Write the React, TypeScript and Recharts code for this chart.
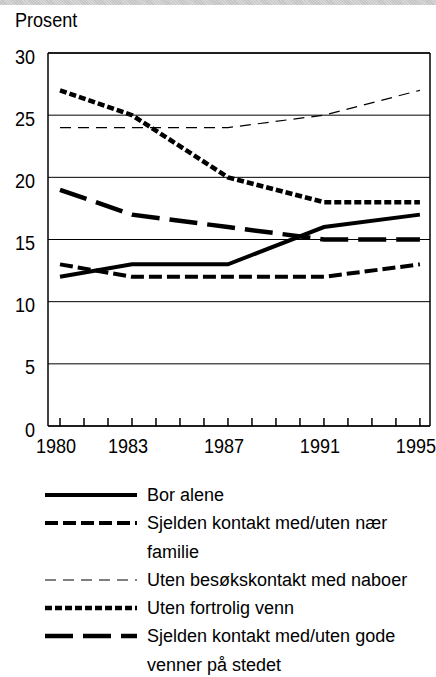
import { CartesianGrid, Line, LineChart, ReferenceLine, XAxis, YAxis } from "recharts";

const years = [1980, 1983, 1987, 1991, 1995];
const borAlene = [12, 13, 13, 16, 17];
const naerFamilie = [13, 12, 12, 12, 13];
const naboer = [24, 24, 24, 25, 27];
const fortroligVenn = [27, 25, 20, 18, 18];
const godeVenner = [19, 17, 16, 15, 15];

const yearTicks = [1980, 1981, 1982, 1983, 1984, 1985, 1986, 1987, 1988, 1989, 1990, 1991, 1992, 1993, 1994, 1995];
const yearLabels = [1980, 1983, 1987, 1991, 1995];
const valueTicks = [0, 5, 10, 15, 20, 25, 30];
const X_MIN = 1979.5;
const X_MAX = 1995.42;

const series = [
  { key: "bor", name: "Bor alene", values: borAlene, width: 4, dash: undefined },
  { key: "familie", name: "Sjelden kontakt med/uten nær familie", values: naerFamilie, width: 4, dash: "13 5" },
  { key: "naboer", name: "Uten besøkskontakt med naboer", values: naboer, width: 1.2, dash: "11 7" },
  { key: "venn", name: "Uten fortrolig venn", values: fortroligVenn, width: 4.5, dash: "7 3" },
  { key: "gode", name: "Sjelden kontakt med/uten gode venner på stedet", values: godeVenner, width: 4.5, dash: "28 10" },
];

const data = years.map((y, i) => {
  const row: Record<string, number> = { year: y };
  series.forEach((s) => (row[s.key] = s.values[i]));
  return row;
});

const FONT = '"Liberation Sans", Arial, sans-serif';
// the original uses a narrow Helvetica, so squeeze the axis text a bit
const NARROW = 0.86;

function XTick({ x, y, payload }: any) {
  const show = yearLabels.includes(payload.value);
  return (
    <g>
      <line x1={x} x2={x} y1={y} y2={y - 8} stroke="#000" strokeWidth={1.5} />
      {show && (
        <text
          transform={`translate(${x - 4},${y + 27}) scale(${NARROW},1)`}
          textAnchor="middle"
          fontSize={21}
          fontFamily={FONT}
          fill="#000"
        >
          {payload.value}
        </text>
      )}
    </g>
  );
}

function YTick({ x, y, payload }: any) {
  return (
    <text
      transform={`translate(${x - 13},${y + 10.5}) scale(${NARROW},1)`}
      textAnchor="end"
      fontSize={21}
      fontFamily={FONT}
      fill="#000"
    >
      {payload.value}
    </text>
  );
}

export default function App() {
  return (
    <div style={{ position: "absolute", left: 0, top: 0, width: 436, height: 677, background: "#fff", fontFamily: FONT }}>
      <div
        style={{
          height: 5,
          background: "repeating-linear-gradient(45deg, #c4c4c4 0px, #c4c4c4 1px, #d8d8d8 1px, #d8d8d8 2px)",
        }}
      />
      <div
        style={{
          position: "absolute",
          left: 15,
          top: 8,
          fontSize: 21,
          color: "#000",
          transform: `scale(${NARROW},1)`,
          transformOrigin: "left top",
        }}
      >
        Prosent
      </div>
      <div style={{ position: "absolute", left: 0, top: 0 }}>
        <LineChart width={436} height={470} data={data} margin={{ top: 53, right: 6, left: 0, bottom: 4 }}>
          <CartesianGrid vertical={false} stroke="#000" strokeWidth={1} />
          <XAxis
            dataKey="year"
            type="number"
            domain={[X_MIN, X_MAX]}
            ticks={yearTicks}
            interval={0}
            height={40}
            tickSize={0}
            tickMargin={0}
            tickLine={false}
            axisLine={{ stroke: "#000", strokeWidth: 1.5 }}
            tick={<XTick />}
          />
          <YAxis
            type="number"
            domain={[0, 30]}
            ticks={valueTicks}
            interval={0}
            width={48}
            tickSize={0}
            tickMargin={0}
            tickLine={false}
            axisLine={{ stroke: "#000", strokeWidth: 1.5 }}
            tick={<YTick />}
          />
          <ReferenceLine x={X_MAX} stroke="#000" strokeWidth={1.5} />
          <ReferenceLine y={30} stroke="#000" strokeWidth={1.5} />
          {series.map((s) => (
            <Line
              key={s.key}
              type="linear"
              dataKey={s.key}
              stroke="#000"
              strokeWidth={s.width}
              strokeDasharray={s.dash}
              dot={false}
              activeDot={false}
              isAnimationActive={false}
            />
          ))}
        </LineChart>
      </div>
      <div style={{ position: "absolute", left: 0, top: 481, width: 436 }}>
        {series.map((s) => (
          <div key={s.key} style={{ display: "flex", alignItems: "flex-start", lineHeight: "28.3px", fontSize: 18 }}>
            <svg width={92} height={28} style={{ marginLeft: 45, marginRight: 10, flexShrink: 0 }}>
              <line x1={0} x2={92} y1={14} y2={14} stroke="#000" strokeWidth={s.width} strokeDasharray={s.dash} />
            </svg>
            <div style={{ width: 280, color: "#000" }}>{s.name}</div>
          </div>
        ))}
      </div>
    </div>
  );
}
